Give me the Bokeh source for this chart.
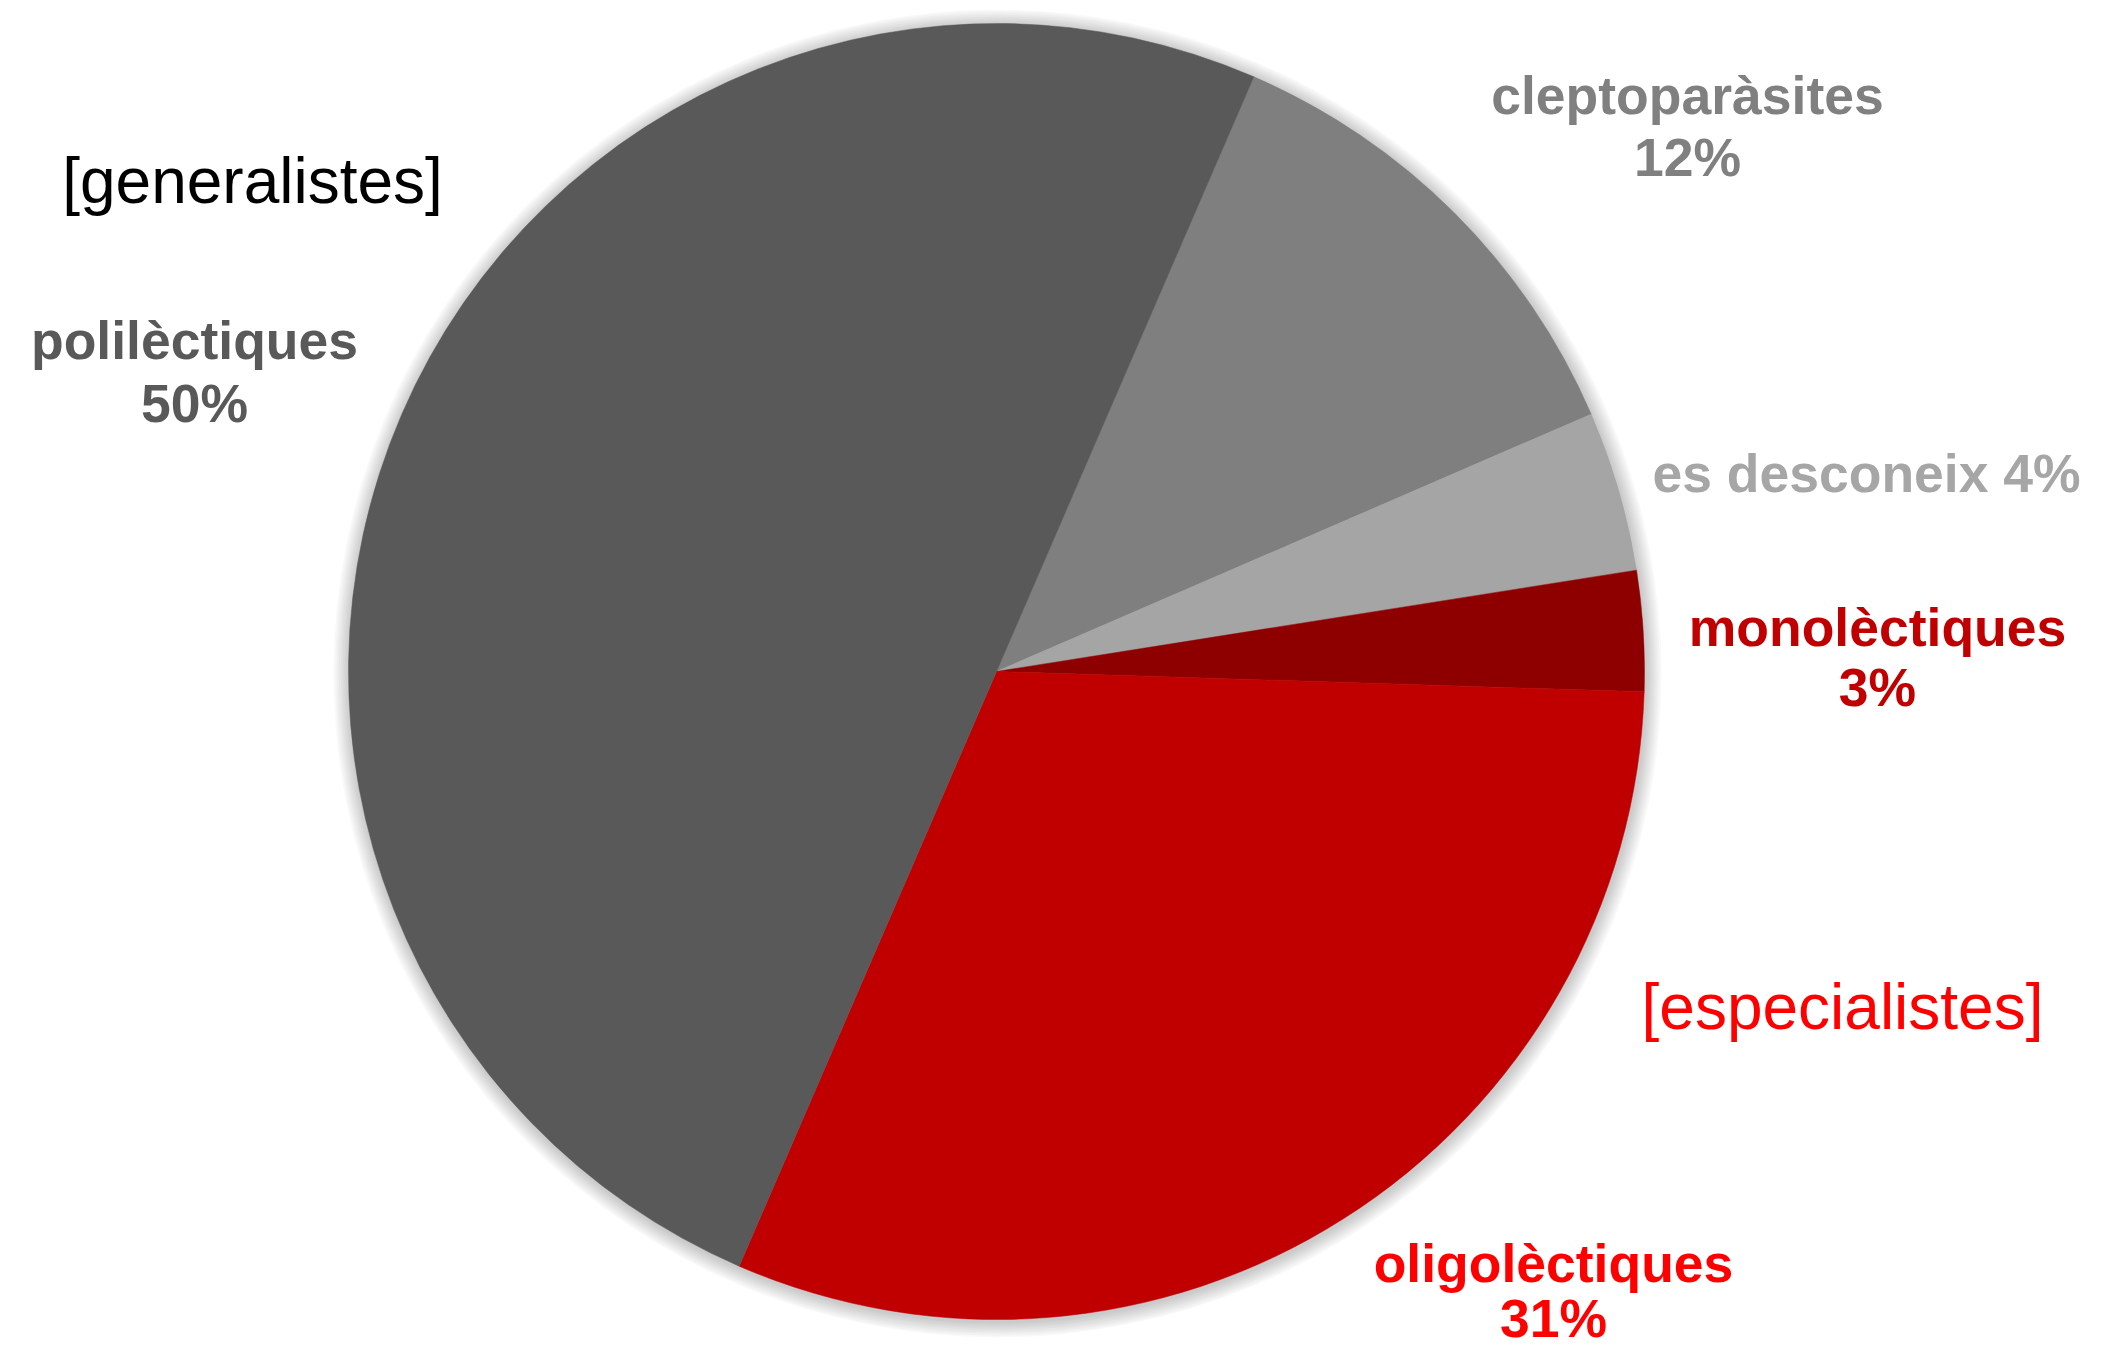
import math
from bokeh.plotting import figure
from bokeh.models import Range1d, ColumnDataSource
from bokeh.embed import file_html
from bokeh.resources import INLINE
from bokeh.core.properties import value

# ---- data ----
categories = ["cleptoparàsites", "es desconeix", "monolèctiques", "oligolèctiques", "polilèctiques"]
percent = [12, 4, 3, 31, 50]
slice_colors = ["#7F7F7F", "#A5A5A5", "#8E0000", "#C00000", "#595959"]
label_colors = ["#808080", "#A6A6A6", "#C00000", "#FF0000", "#595959"]
group_labels = ["[generalistes]", "[especialistes]"]
group_colors = ["#000000", "#FF0000"]

# ---- layout (screen px of the picture) ----
W, H = 2086, 1349
TOP = 1365
def sy(y):  # screen y -> data y (up)
    return TOP - y

TXT = -20  # vertical correction for text baseline rendering

cx, cy, R = 996, sy(671), 648
first_angle_deg = 66.6

p = figure(width=W, height=H, output_backend="svg", toolbar_location=None,
           x_range=Range1d(0, W), y_range=Range1d(TOP - H, TOP),
           min_border=0, background_fill_color="white", border_fill_color="white")
p.axis.visible = False
p.grid.visible = False
p.outline_line_color = None

# soft shadow
for i in range(1, 10):
    p.circle(x=[cx + 1], y=[cy - 2], radius=R + i * 1.8, fill_color="#000000",
             fill_alpha=0.022, line_color=None)

# wedges, clockwise from first_angle
total = float(sum(percent))
starts, ends = [], []
a = math.radians(first_angle_deg)
for v in percent:
    span = 2 * math.pi * v / total
    ends.append(a)
    starts.append(a - span)
    a -= span
src = ColumnDataSource(dict(start=starts, end=ends, color=slice_colors, cat=categories))
p.wedge(x=cx, y=cy, radius=R, start_angle="start", end_angle="end", fill_color="color",
        line_color="color", line_width=0.5, source=src)

# category labels (name line + percent line), centered
label_pos = {  # screen center x, baseline y of first line, baseline y of second line
    "cleptoparàsites": (1687, 115, 177),
    "monolèctiques": (1877, 647, 707),
    "oligolèctiques": (1553, 1283, 1338),
    "polilèctiques": (194, 360, 423),
}
FS = "53.5px"
for cat, v, col in zip(categories, percent, label_colors):
    if cat == "es desconeix":
        p.text(x=[1866], y=[sy(493 + TXT)], text=[f"{cat} {v}%"], text_color=col,
               text_font=value("Liberation Sans"), text_font_style="bold",
               text_font_size=FS, text_align="center", text_baseline="alphabetic")
        continue
    x0, y0, y1 = label_pos[cat]
    p.text(x=[x0, x0], y=[sy(y0 + TXT), sy(y1 + TXT)], text=[cat, f"{v}%"], text_color=col,
           text_font=value("Liberation Sans"), text_font_style="bold",
           text_font_size=FS, text_align="center", text_baseline="alphabetic")

# group labels
group_pos = [(252, 200), (1842, 1026)]
for t, col, (gx, gy) in zip(group_labels, group_colors, group_pos):
    p.text(x=[gx], y=[sy(gy + TXT)], text=[t], text_color=col,
           text_font=value("Liberation Sans"), text_font_size="64px",
           text_align="center", text_baseline="alphabetic")

open("out.html", "w").write(file_html(p, INLINE))
